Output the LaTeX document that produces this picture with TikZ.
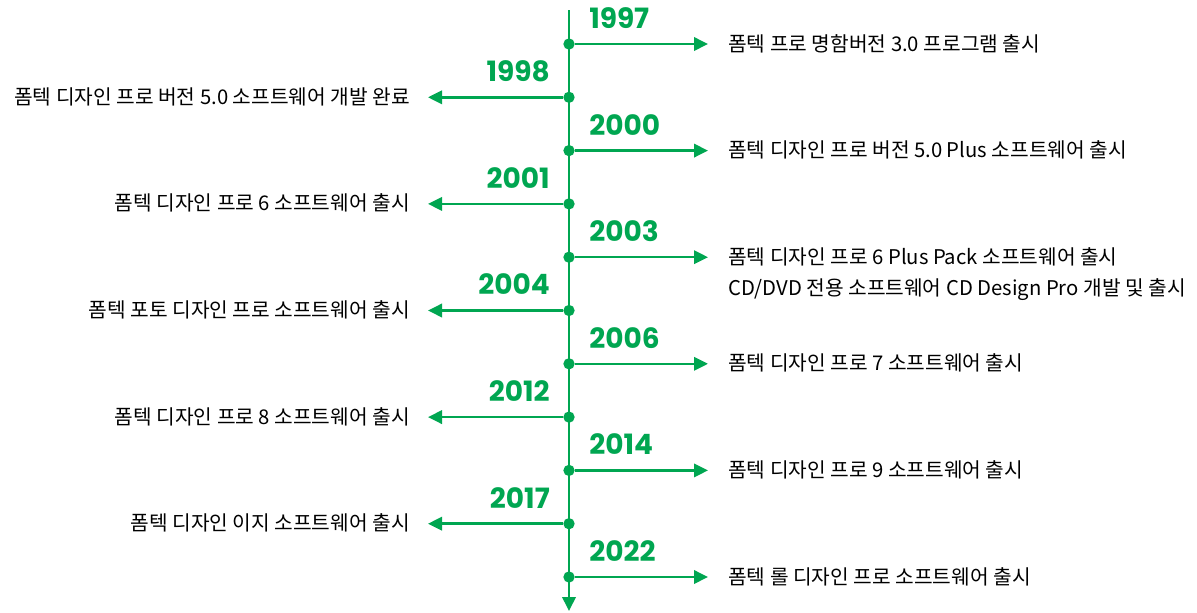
\documentclass[tikz,border=0pt]{standalone}
\usepackage{fontspec}
\setmainfont{Noto Sans CJK KR}
\newfontfamily\krfont{Noto Sans CJK KR}
\newfontfamily\yrfont{Poppins}
\usetikzlibrary{arrows.meta,positioning}
\definecolor{tlgreen}{RGB}{0,166,81}
\tikzset{
  tlline/.style={draw=tlgreen, line width=1.9pt},
  tlarr/.style={tlline, -{Triangle[length=10.5pt,width=10pt]}},
  tldot/.style={circle, fill=tlgreen, inner sep=0pt, minimum size=8.5pt},
}
\begin{document}
\begin{tikzpicture}[
  x=0.75pt, y=-0.75pt,
  font=\krfont\fontsize{15.2}{21}\selectfont,
  yrlabel/.style={font=\yrfont\bfseries\fontsize{21}{22}\selectfont, text=tlgreen, inner sep=0pt},
  evtext/.style={inner sep=0pt},
]
  \useasboundingbox (0,0) rectangle (1197,612);
  \coordinate (top) at (569,10);
  \coordinate (bot) at (569,611);
  \draw[tlarr] (top) -- (bot);
  \foreach \i/\yr/\txt in {
    0/1997/{폼텍 프로 명함버전 3.0 프로그램 출시},
    1/1998/{폼텍 디자인 프로 버전 5.0 소프트웨어 개발 완료},
    2/2000/{폼텍 디자인 프로 버전 5.0 Plus 소프트웨어 출시},
    3/2001/{폼텍 디자인 프로 6 소프트웨어 출시},
    4/2003/{폼텍 디자인 프로 6 Plus Pack 소프트웨어 출시\\CD/DVD 전용 소프트웨어 CD Design Pro 개발 및 출시},
    5/2004/{폼텍 포토 디자인 프로 소프트웨어 출시},
    6/2006/{폼텍 디자인 프로 7 소프트웨어 출시},
    7/2012/{폼텍 디자인 프로 8 소프트웨어 출시},
    8/2014/{폼텍 디자인 프로 9 소프트웨어 출시},
    9/2017/{폼텍 디자인 이지 소프트웨어 출시},
    10/2022/{폼텍 롤 디자인 프로 소프트웨어 출시}}{
    \pgfmathsetmacro\yy{44+53.3*\i}
    \node[tldot] (d\i) at (569,\yy) {};
    \ifodd\i
      % left side
      \coordinate (e\i) at (428,\yy);
      \node[yrlabel, anchor=east] (y\i) at (550,\yy-26) {\yr};
      \node[evtext, anchor=base east] (t\i) at (410,\yy+7)
        {\begin{tabular}[t]{@{}r@{}}\txt\end{tabular}};
    \else
      % right side
      \coordinate (e\i) at (708,\yy);
      \node[yrlabel, anchor=west] (y\i) at (589,\yy-26) {\yr};
      \node[evtext, anchor=base west] (t\i) at (728,\yy+7)
        {\renewcommand\arraystretch{1.1}\begin{tabular}[t]{@{}l@{}}\txt\end{tabular}};
    \fi
    \draw[tlarr] (d\i) -- (e\i);
  }
\end{tikzpicture}
\end{document}
